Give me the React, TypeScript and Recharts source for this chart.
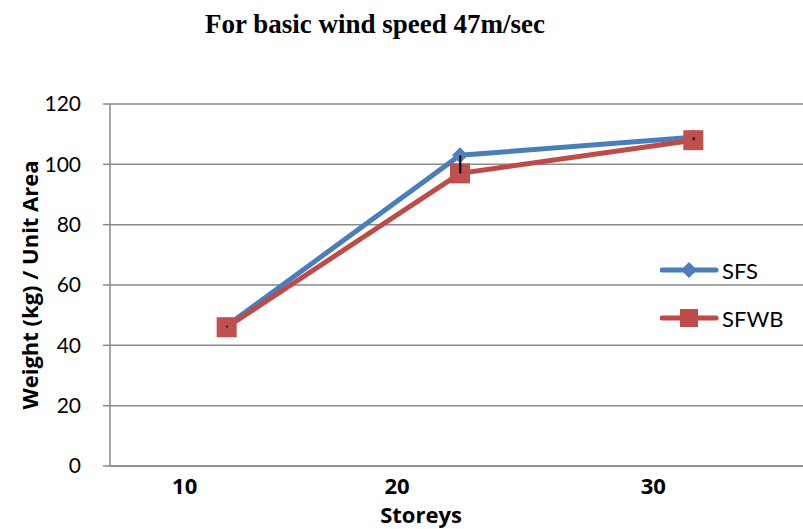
import { ComposedChart, Line, Bar, XAxis, YAxis, CartesianGrid } from 'recharts'

const storeys = ['10', '20', '30']
const sfs = [46.5, 103, 109]
const sfwb = [46, 97, 108]

const SERIES = [
  { key: 'SFS', color: '#4a7ebb', marker: 'diamond' },
  { key: 'SFWB', color: '#be4b48', marker: 'square' },
]

// Excel put the category labels a bit left of the points
const TICK_DX = [-42, -63, -40]

// hl = high-low line, drawn as a thin floating bar between the two series
const data = storeys.map((s, i) => ({
  storey: s,
  SFS: sfs[i],
  SFWB: sfwb[i],
  hl: [Math.min(sfs[i], sfwb[i]), Math.max(sfs[i], sfwb[i])],
}))

const FONT = 'Lato, "Open Sans", sans-serif'
const BOLD_FONT = '"Open Sans", sans-serif'

function Diamond({ cx, cy, color, r = 8 }: { cx: number; cy: number; color: string; r?: number }) {
  return <path d={`M${cx},${cy - r}L${cx + r},${cy}L${cx},${cy + r}L${cx - r},${cy}Z`} fill={color} />
}

function Square({ cx, cy, color, s = 10 }: { cx: number; cy: number; color: string; s?: number }) {
  return <rect x={cx - s} y={cy - s} width={s * 2} height={s * 2} fill={color} />
}

function XTick(props: any) {
  const { x, y, payload, index } = props
  return (
    <text x={x + TICK_DX[index]} y={y + 20} textAnchor="middle" fontFamily={BOLD_FONT} fontWeight="bold" fontSize={22} fill="#000">
      {payload.value}
    </text>
  )
}

function LegendBox() {
  return (
    <div style={{ position: 'absolute', left: 660, top: 246, fontFamily: FONT, fontSize: 22 }}>
      {SERIES.map((s) => (
        <div key={s.key} style={{ display: 'flex', alignItems: 'center', height: 48 }}>
          <svg width={60} height={24}>
            <line x1={2} y1={12} x2={56} y2={12} stroke={s.color} strokeWidth={5} strokeLinecap="round" />
            {s.marker === 'diamond' ? <Diamond cx={29} cy={12} color={s.color} /> : <Square cx={29} cy={12} color={s.color} s={9} />}
          </svg>
          <span style={{ marginLeft: 2 }}>{s.key}</span>
        </div>
      ))}
    </div>
  )
}

export default function App() {
  const hlProps: any = { zIndex: 2000 }
  return (
    <div style={{ position: 'absolute', left: 0, top: 0, width: 803, height: 529, overflow: 'hidden', background: '#fff' }}>
      <div
        style={{
          position: 'absolute',
          top: 11,
          left: 0,
          width: 750,
          textAlign: 'center',
          fontFamily: '"Liberation Serif", "Times New Roman", serif',
          fontWeight: 'bold',
          fontSize: 27,
          lineHeight: '27px',
        }}
      >
        For basic wind speed 47m/sec
      </div>
      <ComposedChart width={810} height={529} data={data} margin={{ top: 104, right: 0, bottom: 0, left: 0 }}>
        <CartesianGrid vertical={false} stroke="#8a8a8a" strokeWidth={1.5} />
        <XAxis
          dataKey="storey"
          scale="band"
          height={63}
          tickLine={false}
          axisLine={{ stroke: '#8a8a8a', strokeWidth: 1.5 }}
          tick={<XTick />}
          label={{
            content: () => (
              <text x={421} y={523} textAnchor="middle" fontFamily={BOLD_FONT} fontWeight="bold" fontSize={22}>
                Storeys
              </text>
            ),
          }}
        />
        <YAxis
          width={110}
          domain={[0, 120]}
          ticks={[0, 20, 40, 60, 80, 100, 120]}
          tickSize={7}
          tickMargin={22}
          tickLine={{ stroke: '#8a8a8a', strokeWidth: 1.5 }}
          axisLine={{ stroke: '#8a8a8a', strokeWidth: 1.5 }}
          tick={{ fontFamily: FONT, fontSize: 21, fill: '#000' }}
          label={{
            content: () => (
              <text
                x={38}
                y={285}
                transform="rotate(-90 38 285)"
                textAnchor="middle"
                fontFamily={BOLD_FONT}
                fontWeight="bold"
                fontSize={22}
              >
                Weight (kg) / Unit Area
              </text>
            ),
          }}
        />
        <Line
          dataKey="SFS"
          stroke="#4a7ebb"
          strokeWidth={5}
          isAnimationActive={false}
          activeDot={false}
          dot={(p: any) => <Diamond key={`d-${p.index}`} cx={p.cx} cy={p.cy} color="#4f81bd" />}
        />
        <Line
          dataKey="SFWB"
          stroke="#be4b48"
          strokeWidth={5}
          isAnimationActive={false}
          activeDot={false}
          dot={(p: any) => <Square key={`s-${p.index}`} cx={p.cx} cy={p.cy} color="#c0504d" />}
        />
        <Bar dataKey="hl" barSize={2} fill="#000" isAnimationActive={false} legendType="none" minPointSize={1} {...hlProps} />
      </ComposedChart>
      <LegendBox />
    </div>
  )
}
